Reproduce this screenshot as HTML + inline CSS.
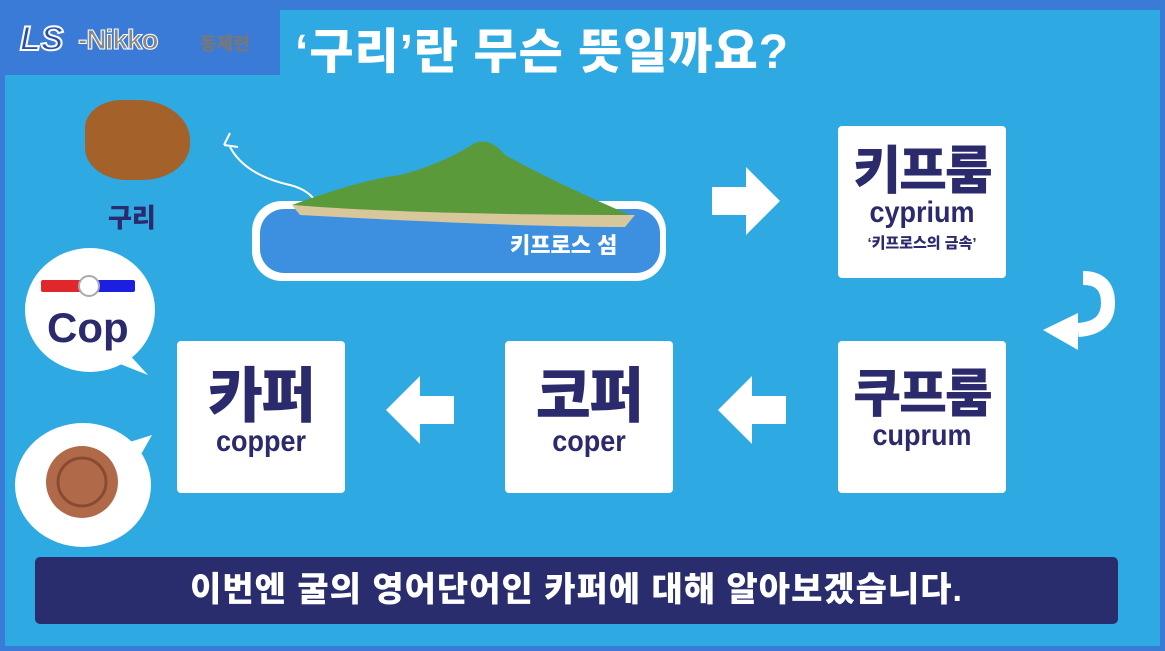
<!DOCTYPE html>
<html><head><meta charset="utf-8"><style>
*{margin:0;padding:0;box-sizing:border-box}
body{width:1165px;height:651px;overflow:hidden;background:#3b7bd8;font-family:"Liberation Sans","Noto Sans CJK KR",sans-serif;position:relative}
.main{position:absolute;left:5px;top:10px;width:1155px;height:636px;background:#2ea9e1}
.logo{position:absolute;left:0;top:0;width:280px;height:75px;background:#3b7bd8}
.abs{position:absolute}
.card{position:absolute;background:#fff;border-radius:4px;text-align:center;color:#2a2a6c;font-weight:900}
.k{font-size:52px;line-height:1;letter-spacing:-2px}
.e{font-size:30px;line-height:1;transform:scaleX(0.9)}
</style></head><body>
<div class="main"></div>
<div class="logo"></div>
<div class="abs" style="left:20px;top:20px;font-size:34px;font-style:italic;font-weight:900;color:#2a4fa8;-webkit-text-stroke:2px #fff">LS</div>
<div class="abs" style="left:78px;top:24px;font-size:28px;font-weight:900;color:#888;letter-spacing:-1px;-webkit-text-stroke:1px #fff">-Nikko</div>
<div class="abs" style="left:200px;top:30px;font-size:18px;font-weight:900;color:#777">동제련</div>
<div class="abs" style="left:295px;top:12px;font-size:48px;font-weight:900;color:#fff;letter-spacing:1px">‘구리’란 무슨 뜻일까요?</div>

<!-- copper ore -->
<div class="abs" style="left:85px;top:100px;width:105px;height:80px;background:#a4612a;border-radius:35% 50% 45% 40%"></div>
<div class="abs" style="left:108px;top:198px;font-size:26px;font-weight:900;color:#2a2a6c">구리</div>

<!-- island -->
<svg class="abs" style="left:220px;top:115px" width="460" height="170">
<path d="M10 32 Q25 60 70 70 Q90 75 98 90" fill="none" stroke="#fff" stroke-width="2"/>
<path d="M4 30 l6 -12 M4 30 l14 2" stroke="#fff" stroke-width="2" fill="none"/>
<rect x="32" y="86" width="414" height="80" rx="30" fill="#fff"/>
<rect x="40" y="94" width="400" height="64" rx="24" fill="#3d8fe0"/>
<path d="M72 90 Q140 65 180 60 Q220 50 255 28 Q270 22 285 40 Q340 70 410 100 Q300 110 72 90Z" fill="#5a9a3a"/>
<path d="M72 90 Q200 100 415 100 L405 112 Q300 112 80 100Z" fill="#d8c79a"/>
<text x="290" y="138" font-size="22" font-weight="900" fill="#fff" font-family="Liberation Sans,Noto Sans CJK KR,sans-serif">키프로스 섬</text>
</svg>

<!-- arrows -->
<svg class="abs" style="left:712px;top:167px" width="68" height="68"><path d="M0 20h34V0l34 34-34 34V48H0z" fill="#fff"/></svg>
<svg class="abs" style="left:1043px;top:268px" width="80" height="90"><path d="M40 10 Q65 10 65 35 Q65 60 35 62" fill="none" stroke="#fff" stroke-width="14"/><path d="M35 45 L0 62 L35 82Z" fill="#fff"/></svg>
<svg class="abs" style="left:718px;top:376px" width="68" height="68"><path d="M68 20H34V0L0 34l34 34V48h34z" fill="#fff"/></svg>
<svg class="abs" style="left:386px;top:376px" width="68" height="68"><path d="M68 20H34V0L0 34l34 34V48h34z" fill="#fff"/></svg>

<div class="card" style="left:838px;top:126px;width:168px;height:152px;padding-top:20px"><div class="k">키프룸</div><div class="e">cyprium</div><div style="font-size:15px;margin-top:4px">‘키프로스의 금속’</div></div>
<div class="card" style="left:838px;top:341px;width:168px;height:152px;padding-top:28px"><div class="k">쿠프룸</div><div class="e">cuprum</div></div>
<div class="card" style="left:505px;top:341px;width:168px;height:152px;padding-top:26px"><div class="k" style="font-size:60px">코퍼</div><div class="e">coper</div></div>
<div class="card" style="left:177px;top:341px;width:168px;height:152px;padding-top:26px"><div class="k" style="font-size:60px">카퍼</div><div class="e">copper</div></div>

<!-- bubbles -->
<svg class="abs" style="left:0;top:240px" width="160" height="320">
<ellipse cx="90" cy="70" rx="65" ry="62" fill="#fff"/><path d="M125 110 L148 135 L110 120Z" fill="#fff"/>
<ellipse cx="83" cy="245" rx="68" ry="62" fill="#fff"/><path d="M120 205 L152 195 L135 225Z" fill="#fff"/>
<rect x="41" y="40" width="48" height="12" rx="2" fill="#e0282c"/><rect x="89" y="40" width="46" height="12" rx="2" fill="#1c1ee0"/>
<circle cx="89" cy="46" r="10" fill="#fff" stroke="#aaa" stroke-width="2"/>
<text x="47" y="102" font-size="42" font-weight="900" fill="#2a2a6c" font-family="Liberation Sans,sans-serif">Cop</text>
<circle cx="82" cy="242" r="36" fill="#b06a4a"/><circle cx="82" cy="242" r="24" fill="none" stroke="#8a4a32" stroke-width="3"/>
</svg>

<div class="abs" style="left:35px;top:557px;width:1083px;height:67px;background:#2a2d6d;border-radius:5px;color:#fff;font-size:34px;font-weight:900;text-align:center;line-height:67px;letter-spacing:1px">이번엔 굴의 영어단어인 카퍼에 대해 알아보겠습니다.</div>
</body></html>
